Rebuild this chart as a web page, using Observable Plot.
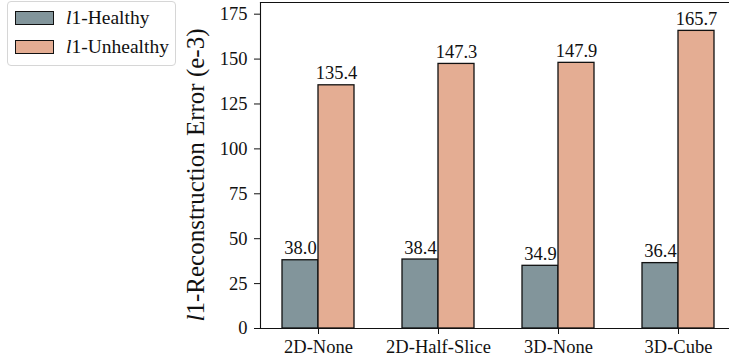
<!DOCTYPE html>
<html>
<head>
<meta charset="utf-8">
<script src="https://cdn.jsdelivr.net/npm/d3@7"></script>
<script src="https://cdn.jsdelivr.net/npm/@observablehq/plot@0.6"></script>
</head>
<body style="margin:0;padding:0;background:#fff;font-family:'Liberation Serif'">
<div id="wrap" style="position:relative;width:729px;height:362px;font-family:'Liberation Serif'"></div>
<script>
const categories = ["2D-None", "2D-Half-Slice", "3D-None", "3D-Cube"];
const healthy = [38.0, 38.4, 34.9, 36.4];
const unhealthy = [135.4, 147.3, 147.9, 165.7];
const seriesNames = ["Healthy", "Unhealthy"];
const seriesColors = ["#82959b", "#e4ad93"];
const yTicks = [0, 25, 50, 75, 100, 125, 150, 175];

const data = categories.flatMap((c, i) => [
  {cat: c, s: seriesNames[0], v: healthy[i]},
  {cat: c, s: seriesNames[1], v: unhealthy[i]}
]);
const dH = data.filter(d => d.s === seriesNames[0]);
const dU = data.filter(d => d.s === seriesNames[1]);

const half = 36;

const plot = Plot.plot({
  width: 729,
  height: 362,
  marginLeft: 260,
  marginRight: 0,
  marginTop: 2,
  marginBottom: 34,
  style: {fontFamily: "Liberation Serif", fontSize: "18.5px", color: "#111", background: "white"},
  x: {type: "band", domain: categories, range: [260, 736], paddingInner: 0.4, paddingOuter: 0.18, align: 0.5, label: null},
  y: {domain: [0, 181.5], label: null},
  marks: [
    Plot.barY(dH, {x: "cat", y: "v", fill: seriesColors[0], stroke: "#111", strokeWidth: 1.3, insetRight: half}),
    Plot.barY(dU, {x: "cat", y: "v", fill: seriesColors[1], stroke: "#111", strokeWidth: 1.3, insetLeft: half}),
    Plot.text(dH, {x: "cat", y: "v", text: d => d.v.toFixed(1), dx: -half / 2, dy: -6, lineAnchor: "bottom", fontSize: 18.5, fill: "#111"}),
    Plot.text(dU, {x: "cat", y: "v", text: d => d.v.toFixed(1), dx: half / 2, dy: -6, lineAnchor: "bottom", fontSize: 18.5, fill: "#111"}),
    Plot.axisY({ticks: yTicks, tickSize: 6, tickPadding: 7, tickFormat: d => String(d), label: null, stroke: "#111"}),
    Plot.axisX({tickSize: 6, tickPadding: 5, label: null, stroke: "#111"}),
    Plot.frame({anchor: "left", stroke: "#111", strokeWidth: 1.1}),
    Plot.frame({anchor: "bottom", stroke: "#111", strokeWidth: 1.1}),
    Plot.frame({anchor: "top", stroke: "#111", strokeWidth: 1.1})
  ]
});

const svg = d3.select(plot);
const t = svg.append("text")
  .attr("transform", `translate(204, 175) rotate(-90)`)
  .attr("text-anchor", "middle")
  .attr("font-size", 25)
  .attr("font-family", "Liberation Serif")
  .attr("fill", "#111");
t.append("tspan").attr("font-style", "italic").text("l");
t.append("tspan").text("1-Reconstruction Error (e-3)");

const wrap = document.getElementById("wrap");
wrap.appendChild(plot);

const legend = document.createElement("div");
Object.assign(legend.style, {
  position: "absolute", left: "7px", top: "1px", width: "169px", height: "65px",
  border: "1px solid #d6d6d6", borderRadius: "4px", background: "rgba(255,255,255,0.85)",
  boxSizing: "border-box", fontFamily: "Liberation Serif"
});
seriesNames.forEach((name, i) => {
  const item = document.createElement("div");
  Object.assign(item.style, {
    position: "absolute", left: "7px", top: (9 + i * 29) + "px", height: "14px",
    display: "flex", alignItems: "center", fontSize: "19.5px", color: "#111", whiteSpace: "nowrap"
  });
  const sw = document.createElement("span");
  Object.assign(sw.style, {width: "37px", height: "12px", border: "1px solid #111", marginRight: "12px", flex: "none", background: seriesColors[i]});
  const lab = document.createElement("span");
  const it = document.createElement("i");
  it.textContent = "l";
  lab.appendChild(it);
  lab.appendChild(document.createTextNode("1-" + name));
  item.appendChild(sw);
  item.appendChild(lab);
  legend.appendChild(item);
});
wrap.appendChild(legend);
</script>
</body>
</html>
